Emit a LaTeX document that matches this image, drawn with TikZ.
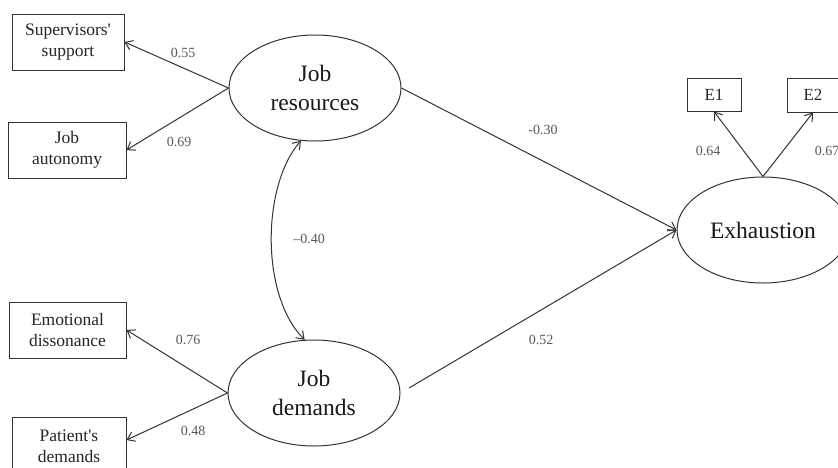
\documentclass[tikz,border=0pt]{standalone}
\usepackage{fontspec}
\setmainfont{Liberation Serif}
\usetikzlibrary{arrows.meta,shapes.geometric}
\begin{document}
\begin{tikzpicture}[x=1pt,y=-1pt,
  obs/.style={draw=black!80, line width=1pt, rectangle, inner sep=0pt, align=center,
    font=\fontsize{17.5}{21}\selectfont, text=black!85},
  latent/.style={draw=black!80, line width=1pt, ellipse, inner sep=0pt,
    minimum width=172pt, minimum height=106pt, align=center,
    font=\fontsize{23.5}{29}\selectfont, text=black!90},
  arr/.style={draw=black!80, line width=1pt, -{Straight Barb[length=7pt,width=10pt]}},
  darr/.style={draw=black!80, line width=1pt, {Straight Barb[length=7pt,width=10pt]}-{Straight Barb[length=7pt,width=10pt]}},
  lbl/.style={font=\fontsize{14}{16}\selectfont, text=black!65, inner sep=0pt}]
\clip (0,0) rectangle (838,467);
\fill[white] (0,0) rectangle (838,467);
% observed variables
\node[obs, minimum width=112pt, minimum height=56pt] (SS) at (68,42) {Supervisors\textquotesingle\\support};
\node[obs, minimum width=118pt, minimum height=56pt] (JA) at (67,150) {Job\\autonomy};
\node[obs, minimum width=117pt, minimum height=56pt] (ED) at (67.5,330) {Emotional\\dissonance};
\node[obs, minimum width=114pt, minimum height=58pt] (PD) at (69,446) {Patient\textquotesingle s\\demands};
\node[obs, minimum width=54pt, minimum height=33pt, font=\fontsize{17}{19}\selectfont] (E1) at (714,94.5) {E1};
\node[obs, minimum width=52pt, minimum height=34pt, font=\fontsize{17}{19}\selectfont] (E2) at (813,95) {E2};
% latent variables
\node[latent] (JR) at (315,88) {Job\\resources};
\node[latent] (JD) at (314,393) {Job\\demands};
\node[latent] (EX) at (763,230) {Exhaustion};
% loadings
\draw[arr] (JR.west) -- (SS.east);
\draw[arr] (JR.west) -- (JA.east);
\draw[arr] (JD.west) -- (ED.east);
\draw[arr] (JD.west) -- ([yshift=6pt]PD.east);
\draw[arr] (EX.north) -- (E1.south);
\draw[arr] (EX.north) -- (E2.south);
% structural paths
\draw[arr] (JR.east) -- (EX.west);
\draw[arr, shorten <=10pt] (JD.east) -- (EX.west);
% correlation
\draw[darr] (JR.255) .. controls (262,185) and (260,295) .. (JD.100);
% labels
\node[lbl] (l1) at (183,53) {0.55};
\node[lbl] (l2) at (179,142) {0.69};
\node[lbl] (l3) at (188,340) {0.76};
\node[lbl] (l4) at (193,431) {0.48};
\node[lbl] (l5) at (309,239) {–0.40};
\node[lbl] (l6) at (543,130) {-0.30};
\node[lbl] (l7) at (541,340) {0.52};
\node[lbl] (l8) at (708,151) {0.64};
\node[lbl] (l9) at (827,151) {0.67};
\end{tikzpicture}
\end{document}
